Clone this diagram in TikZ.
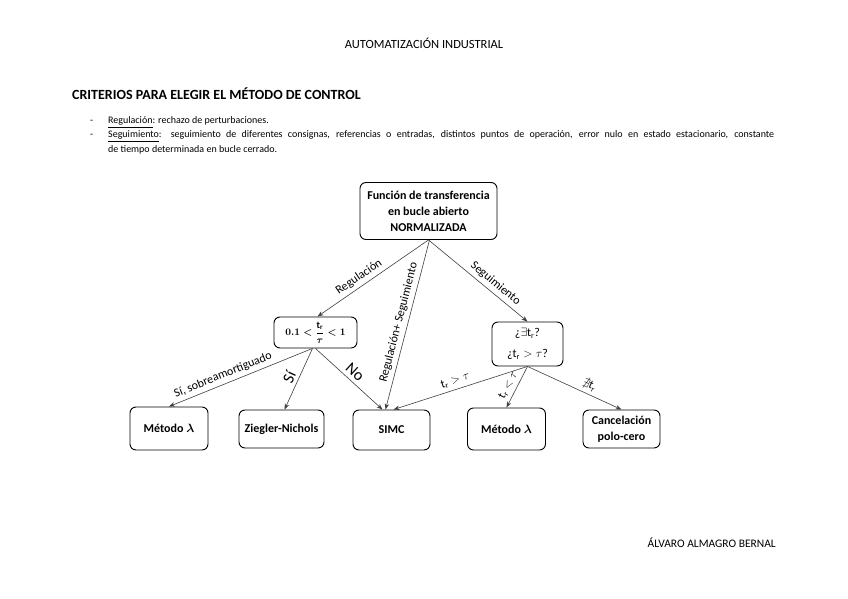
\documentclass[tikz,border=0pt]{standalone}
\usepackage{amsmath,amssymb}
\usepackage{fontspec}
\setmainfont{Carlito}
\usetikzlibrary{arrows.meta}
\tikzset{
  box/.style={draw=black, line width=0.9pt, rounded corners=6pt, align=center, inner sep=1pt,
    font=\bfseries\fontsize{12}{16}\selectfont},
  qbox/.style={box, font=\fontsize{12}{16}\selectfont},
  arr/.style={draw=black!75, line width=0.6pt, -{Stealth[length=6pt,width=4.5pt]}},
  lbl/.style={sloped, above, inner sep=3.5pt, font=\fontsize{12}{14}\selectfont},
  big/.style={font=\fontsize{16}{18}\selectfont},
  plain/.style={inner sep=0pt, anchor=base west, font=\fontsize{10}{12}\selectfont}
}
\begin{document}
\begin{tikzpicture}[x=1pt,y=-1pt]
\useasboundingbox[fill=white] (0,0) rectangle (848,599);

\node[font=\fontsize{12.5}{14}\selectfont] (hdr) at (424,43) {AUTOMATIZACIÓN INDUSTRIAL};
\node[anchor=base west, inner sep=0pt, font=\bfseries\fontsize{14}{16}\selectfont] (ttl) at (72,100) {CRITERIOS PARA ELEGIR EL MÉTODO DE CONTROL};

\node[plain] (d1) at (90,124) {-};
\node[plain] (b1) at (108,124) {\underline{Regulación}: rechazo de perturbaciones.};
\node[plain] (d2) at (90,138) {-};
\node[plain] (b2) at (108,138) {\makebox[666pt][s]{\underline{Seguimiento}: seguimiento de diferentes consignas, referencias o entradas, distintos puntos de operación, error nulo en estado estacionario, constante}};
\node[plain] (b3) at (108,153) {de tiempo determinada en bucle cerrado.};

\node[box, minimum width=137, minimum height=57] (top) at (428.5,211) {Función de transferencia\\en bucle abierto\\NORMALIZADA};
\node[box, minimum width=83, minimum height=31, font=\fontsize{10}{12}\selectfont] (r1) at (315.5,332.5) {$\boldsymbol{0.1<\dfrac{\mathrm{t_r}}{\tau}<1}$};
\node[qbox, minimum width=71, minimum height=44] (r2) at (527.5,344) {¿$\exists\mathrm{t_r}$?\\[5pt]¿$\mathrm{t_r}>\tau$?};

\node[box, minimum width=78, minimum height=43] (ma) at (169,428.5) {Método $\boldsymbol{\lambda}$};
\node[box, minimum width=85, minimum height=38] (zn) at (281.5,429) {Ziegler-Nichols};
\node[box, minimum width=77, minimum height=40] (simc) at (391.5,430) {SIMC};
\node[box, minimum width=78, minimum height=42] (mb) at (506.5,429) {Método $\boldsymbol{\lambda}$};
\node[box, minimum width=77, minimum height=38] (cpc) at (621.5,429) {Cancelación\\polo-cero};

\draw[arr] (top.south) -- node[lbl, pos=.58] {Regulación} ([xshift=2pt]r1.north);
\draw[arr] ([xshift=1pt]top.south) -- node[lbl, pos=.5] {Regulación+ Seguimiento} ([xshift=-6pt]simc.north);
\draw[arr] (top.south) -- node[lbl, pos=.62] {Seguimiento} (r2.north);

\draw[arr] ([xshift=-3pt]r1.south) -- node[lbl, pos=.6] {Sí, sobreamortiguado} (ma.north);
\draw[arr] ([xshift=-3pt]r1.south) -- node[lbl, big, pos=.53] {Sí} ([xshift=3pt]zn.north);
\draw[arr] (r1.south) -- node[lbl, big, pos=.5] {No} ([xshift=-9pt]simc.north);

\draw[arr] (r2.south) -- node[lbl, pos=.52] {$\mathrm{t_r}>\tau$} ([xshift=2pt]simc.north);
\draw[arr] (r2.south) -- node[lbl, pos=.55] {$\mathrm{t_r}<\tau$} (mb.north);
\draw[arr] (r2.south) -- node[lbl, pos=.62] {$\nexists\mathrm{t_r}$} (cpc.north);

\node[anchor=base east, inner sep=0pt, font=\fontsize{11.5}{13}\selectfont] (aut) at (776,547) {ÁLVARO ALMAGRO BERNAL};
\end{tikzpicture}
\end{document}
